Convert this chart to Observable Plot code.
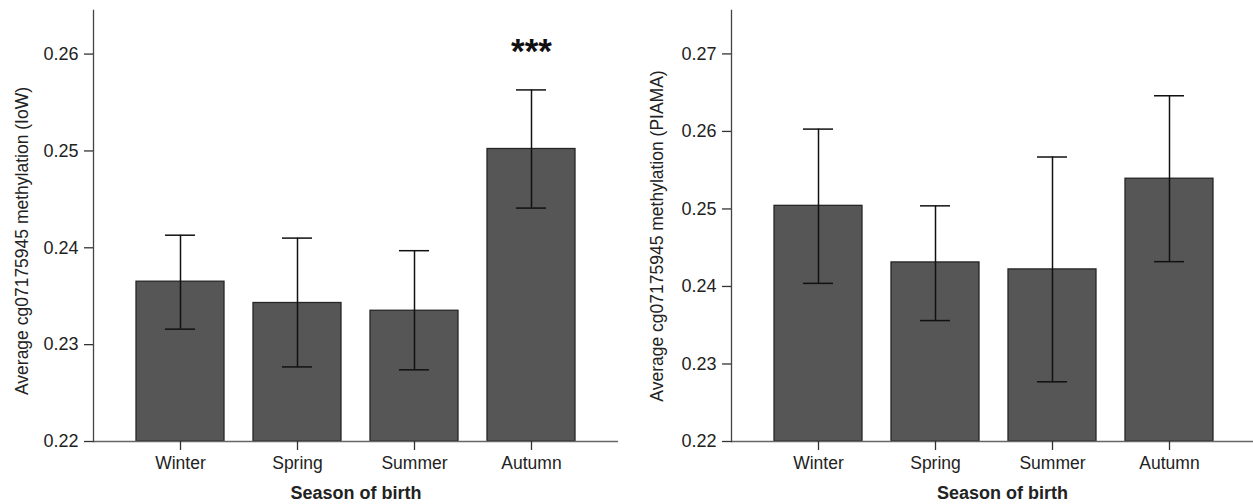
<!DOCTYPE html>
<html>
<head>
<meta charset="utf-8">
<script src="https://cdn.jsdelivr.net/npm/d3@7"></script>
<script src="https://cdn.jsdelivr.net/npm/@observablehq/plot@0.6"></script>
<style>
  html, body { margin: 0; padding: 0; background: #fff; overflow: hidden; }
  #wrap { position: relative; width: 1253px; height: 504px; overflow: hidden; }
  #left, #right { position: absolute; top: 0; }
  #left { left: 0; width: 626px; }
  #right { left: 626px; width: 630px; }
  #wrap svg { max-width: none !important; font-family: "Liberation Sans", Arial, sans-serif; }
</style>
</head>
<body>
<div id="wrap"><div id="left"></div><div id="right"></div></div>
<script>
const seasons = ["Winter", "Spring", "Summer", "Autumn"];

const iowMean = [0.2365, 0.2343, 0.2335, 0.2502];
const iowLow  = [0.2316, 0.2277, 0.2274, 0.2441];
const iowHigh = [0.2413, 0.2410, 0.2397, 0.2563];
const iowSig  = ["", "", "", "***"];

const piamaMean = [0.2504, 0.2431, 0.2422, 0.2539];
const piamaLow  = [0.2404, 0.2356, 0.2277, 0.2432];
const piamaHigh = [0.2603, 0.2504, 0.2567, 0.2646];
const piamaSig  = ["", "", "", ""];

const iowTicks   = [0.22, 0.23, 0.24, 0.25, 0.26];
const piamaTicks = [0.22, 0.23, 0.24, 0.25, 0.26, 0.27];

const yLabelIow   = "Average cg07175945 methylation (IoW)";
const yLabelPiama = "Average cg07175945 methylation (PIAMA)";
const xLabel = "Season of birth";

function rows(mean, low, high, sig) {
  return seasons.map((s, i) => ({season: s, mean: mean[i], low: low[i], high: high[i], sig: sig[i]}));
}

function panel({data, ticks, yMax, width, marginLeft, marginRight, yLabel, yLabelDx, yLabelDy, xLabelDx}) {
  const base = ticks[0];
  return Plot.plot({
    width, height: 504,
    marginLeft, marginRight, marginTop: 10, marginBottom: 63,
    style: {fontFamily: '"Liberation Sans", Arial, sans-serif', fontSize: "17.5px", color: "#222", background: "#fff", maxWidth: "none"},
    x: {type: "band", domain: seasons, paddingInner: 0.25, paddingOuter: 0.35, label: null},
    y: {domain: [base, yMax], label: null},
    marks: [
      Plot.barY(data, {x: "season", y1: base, y2: "mean", fill: "#565656", stroke: "#262626", strokeWidth: 1.3}),
      Plot.ruleX(data, {x: "season", y1: "low", y2: "high", stroke: "#111", strokeWidth: 1.5}),
      Plot.tickY(data, {x: "season", y: "high", insetLeft: 29, insetRight: 29, stroke: "#111", strokeWidth: 1.5}),
      Plot.tickY(data, {x: "season", y: "low", insetLeft: 29, insetRight: 29, stroke: "#111", strokeWidth: 1.5}),
      Plot.text(data, {x: "season", y: "high", text: "sig", dy: -38, fontSize: 35, fontWeight: "bold", fill: "#111"}),
      Plot.ruleY([base], {stroke: "#666", strokeWidth: 1.3}),
      Plot.frame({anchor: "left", stroke: "#444", strokeWidth: 1.3}),
      Plot.axisY({ticks, tickFormat: ".2f", tickSize: 9, tickPadding: 6, label: null, stroke: "#333", strokeWidth: 1.3, fill: "#222", fontSize: 18}),
      Plot.axisX({tickSize: 9, tickPadding: 6, label: null, stroke: "#333", strokeWidth: 1.3, fill: "#222", fontSize: 17.5}),
      Plot.text([yLabel], {frameAnchor: "left", text: d => d, rotate: -90, dx: yLabelDx, dy: yLabelDy, fontSize: 17.5, fill: "#222", textAnchor: "middle", lineAnchor: "middle"}),
      Plot.text([xLabel], {frameAnchor: "bottom", text: d => d, dy: 52, dx: xLabelDx, fontSize: 18, fontWeight: "bold", fill: "#222", textAnchor: "middle", lineAnchor: "middle"})
    ]
  });
}

document.getElementById("left").append(panel({
  data: rows(iowMean, iowLow, iowHigh, iowSig),
  ticks: iowTicks, yMax: 0.2645,
  width: 626, marginLeft: 93, marginRight: 8,
  yLabel: yLabelIow, yLabelDx: -71, yLabelDy: 15, xLabelDx: 0
}));

document.getElementById("right").append(panel({
  data: rows(piamaMean, piamaLow, piamaHigh, piamaSig),
  ticks: piamaTicks, yMax: 0.2756,
  width: 630, marginLeft: 105, marginRight: 0,
  yLabel: yLabelPiama, yLabelDx: -74, yLabelDy: 10, xLabelDx: 8.5
}));
</script>
</body>
</html>
